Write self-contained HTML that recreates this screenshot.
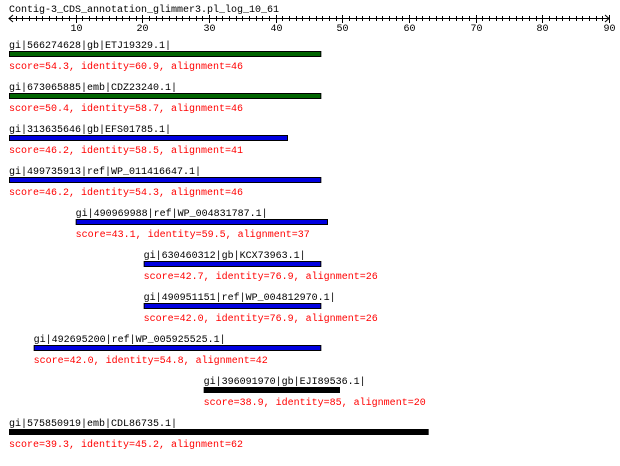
<!DOCTYPE html>
<html><head><meta charset="utf-8"><style>
body{margin:0;background:#fff;}
svg text{font-family:"Liberation Mono","DejaVu Sans Mono",monospace;font-size:10px;}
</style></head><body>
<svg id="c" width="620" height="461" xmlns="http://www.w3.org/2000/svg"></svg>
<script>
const names=["gi|566274628|gb|ETJ19329.1|","gi|673065885|emb|CDZ23240.1|","gi|313635646|gb|EFS01785.1|","gi|499735913|ref|WP_011416647.1|","gi|490969988|ref|WP_004831787.1|","gi|630460312|gb|KCX73963.1|","gi|490951151|ref|WP_004812970.1|","gi|492695200|ref|WP_005925525.1|","gi|396091970|gb|EJI89536.1|","gi|575850919|emb|CDL86735.1|"];
const scores=[54.3,50.4,46.2,46.2,43.1,42.7,42.0,42.0,38.9,39.3];
const identities=["60.9","58.7","58.5","54.3","59.5","76.9","76.9","54.8","85","45.2"];
const alignments=[46,46,41,46,37,26,26,42,20,62];
const starts=[0,0,0,0,10,20.2,20.2,3.7,29.2,0];
const ends=[46.7,46.7,41.7,46.7,47.7,46.7,46.7,46.7,49.5,62.8];
const colors=["#006400","#006400","#0000e0","#0000e0","#0000e0","#0000e0","#0000e0","#0000e0","#000","#000"];
const ticks=[10,20,30,40,50,60,70,80,90];
const svg=document.getElementById('c');const NS="http://www.w3.org/2000/svg";
const X=u=>9+u*600/90;
function mk(t,a,p){const e=document.createElementNS(NS,t);for(const k in a)e.setAttribute(k,a[k]);(p||svg).appendChild(e);return e;}
let t=mk('text',{x:9,y:12,fill:'#000'});t.textContent="Contig-3_CDS_annotation_glimmer3.pl_log_10_61";


const ax=mk('g',{});


mk('line',{x1:9,y1:18.5,x2:609,y2:18.5,stroke:'#000'},ax);
mk('polyline',{points:"13,15 9,18.5 13,22",fill:'none',stroke:'#000'},ax);
mk('polyline',{points:"605,15 609,18.5 605,22",fill:'none',stroke:'#000'},ax);
for(let u=1;u<90;u++){const x=Math.round(X(u))+0.5;mk('line',{x1:x,y1:16,x2:x,y2:21,stroke:'#000'},ax);}
ticks.forEach(v=>{const x=Math.round(X(v))+0.5;mk('line',{x1:x,y1:15,x2:x,y2:23,stroke:'#000'},ax);
const l=mk('text',{x:x,y:31,'text-anchor':'middle',fill:'#000'},ax);l.textContent=v;

});
names.forEach((n,i)=>{const y0=40+42*i;const x0=X(starts[i]);
const g=mk('g',{});


const a=mk('text',{x:x0,y:y0+8,fill:'#000'},g);a.textContent=n;


const r=mk('rect',{x:x0+0.5,y:y0+11.5,width:X(ends[i])-x0,height:5,fill:colors[i],stroke:'#000'},g);


const s=mk('text',{x:x0,y:y0+29,fill:'#f00'},g);s.textContent="score="+scores[i].toFixed(1)+", identity="+identities[i]+", alignment="+alignments[i];

});
</script>
</body></html>
